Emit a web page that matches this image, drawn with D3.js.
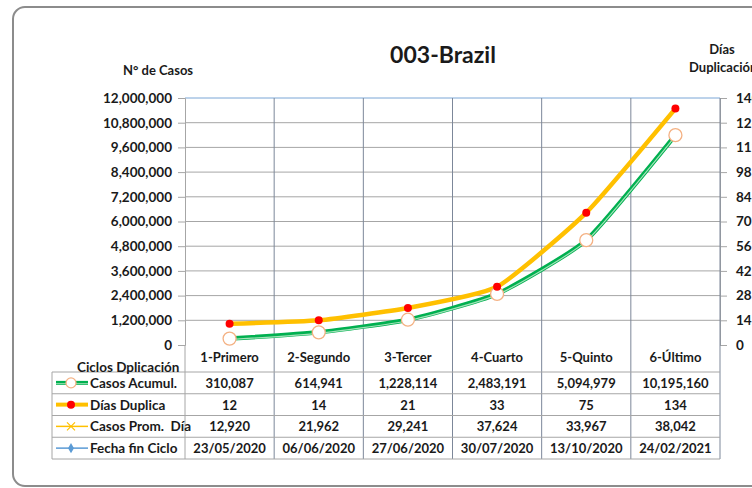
<!DOCTYPE html>
<html>
<head>
<meta charset="utf-8">
<script src="https://cdn.jsdelivr.net/npm/d3@7"></script>
<style>
  body { margin: 0; background: #fff; }
  svg text { font-family: Lato, "Open Sans", sans-serif; font-weight: bold; fill: #1a1a1a; }
</style>
</head>
<body>
<svg id="chart"></svg>
<script>
(function(){
    "use strict";

    const width = 752,
        height = 488;

    // data
    const ciclos = ["1-Primero", "2-Segundo", "3-Tercer", "4-Cuarto", "5-Quinto", "6-Último"];
    const casosAcumul = [310087, 614941, 1228114, 2483191, 5094979, 10195160];
    const diasDuplica = [12, 14, 21, 33, 75, 134];
    const casosPromDia = [12920, 21962, 29241, 37624, 33967, 38042];
    const fechaFin = ["23/05/2020", "06/06/2020", "27/06/2020", "30/07/2020", "13/10/2020", "24/02/2021"];
    const leftTicks = [0, 1200000, 2400000, 3600000, 4800000, 6000000, 7200000, 8400000, 9600000, 10800000, 12000000];
    const rightTicks = [0, 14, 28, 42, 56, 70, 84, 98, 112, 126, 140];

    const plot = {left: 185, right: 720, top: 98, bottom: 345};
    const tableTop = 372, rowH = 21.75, tableLeft = 52;

    const fmt = d3.format(",");

    let svg = d3.select("svg#chart")
        .attr("width", width)
        .attr("height", height);

    // outer rounded frame
    svg.append("rect")
        .attr("x", 13).attr("y", 7)
        .attr("width", 760).attr("height", 479)
        .attr("rx", 12)
        .attr("fill", "#fff")
        .attr("stroke", "#8c8c8c")
        .attr("stroke-width", 2);

    const x = d3.scaleBand().domain(ciclos).range([plot.left, plot.right]);
    const cx = d => x(d) + x.bandwidth() / 2;
    const yL = d3.scaleLinear().domain([0, 12000000]).range([plot.bottom, plot.top]);
    const yR = d3.scaleLinear().domain([0, 140]).range([plot.bottom, plot.top]);

    // horizontal gridlines
    svg.append("g").selectAll("line")
        .data(leftTicks.slice(1))
        .join("line")
        .attr("x1", plot.left).attr("x2", plot.right)
        .attr("y1", d => yL(d)).attr("y2", d => yL(d))
        .attr("stroke", d => d === 12000000 ? "#7aa6d6" : "#a6a6a6")
        .attr("stroke-width", 1);

    // left axis
    let axL = svg.append("g")
        .attr("transform", `translate(${plot.left},0)`)
        .call(d3.axisLeft(yL).tickValues(leftTicks).tickFormat(fmt).tickSize(7).tickPadding(6));
    axL.select(".domain").attr("stroke", "#a6a6a6");
    axL.selectAll(".tick line").attr("stroke", "#a6a6a6");
    axL.selectAll(".tick text").style("font-size", "13.5px").attr("fill", "#1a1a1a");

    // right axis (cut by the frame edge, as in the original)
    let axR = svg.append("g")
        .attr("transform", `translate(${plot.right},0)`)
        .call(d3.axisRight(yR).tickValues(rightTicks).tickSize(7).tickPadding(9));
    axR.select(".domain").attr("stroke", "#a6a6a6");
    axR.selectAll(".tick line").attr("stroke", "#a6a6a6");
    axR.selectAll(".tick text").style("font-size", "13.5px").attr("fill", "#1a1a1a");

    // vertical column lines through plot and table
    const colEdges = ciclos.map(c => x(c)).concat([plot.right]);
    svg.append("g").selectAll("line")
        .data(colEdges.slice(1))
        .join("line")
        .attr("x1", d => d).attr("x2", d => d)
        .attr("y1", plot.top).attr("y2", tableTop + 4 * rowH)
        .attr("stroke", "#7c8799")
        .attr("stroke-width", 1);

    // table horizontal lines
    svg.append("g").selectAll("line")
        .data(d3.range(5))
        .join("line")
        .attr("x1", tableLeft).attr("x2", plot.right)
        .attr("y1", i => tableTop + i * rowH).attr("y2", i => tableTop + i * rowH)
        .attr("stroke", "#a6a6a6");
    svg.append("line")
        .attr("x1", tableLeft).attr("x2", tableLeft)
        .attr("y1", tableTop).attr("y2", tableTop + 4 * rowH)
        .attr("stroke", "#a6a6a6");
    svg.append("line")
        .attr("x1", plot.left).attr("x2", plot.left)
        .attr("y1", plot.bottom).attr("y2", tableTop + 4 * rowH)
        .attr("stroke", "#a6a6a6");

    // category header row
    svg.append("g").selectAll("text")
        .data(ciclos)
        .join("text")
        .attr("x", d => cx(d))
        .attr("y", 362)
        .attr("text-anchor", "middle")
        .style("font-size", "13px")
        .text(d => d);

    svg.append("text")
        .attr("x", 77).attr("y", 372)
        .style("font-size", "13.5px")
        .text("Ciclos Dplicación");

    // table rows
    const rows = [
        {name: "Casos Acumul.", values: casosAcumul.map(fmt)},
        {name: "Días Duplica", values: diasDuplica.map(String)},
        {name: "Casos Prom.  Día", values: casosPromDia.map(fmt)},
        {name: "Fecha fin Ciclo", values: fechaFin}
    ];

    rows.forEach((r, i) => {
        const yMid = tableTop + i * rowH + rowH / 2;
        svg.append("text")
            .attr("x", 90).attr("y", yMid + 5)
            .style("font-size", "13.5px")
            .style("white-space", "pre")
            .text(r.name);
        svg.append("g").selectAll("text")
            .data(r.values)
            .join("text")
            .attr("x", (d, j) => cx(ciclos[j]))
            .attr("y", yMid + 5)
            .attr("text-anchor", "middle")
            .style("font-size", "13px")
            .text(d => d);
    });

    // legend keys
    const key = (i) => tableTop + i * rowH + rowH / 2;
    // Casos Acumul.
    svg.append("line").attr("x1", 56).attr("x2", 88).attr("y1", key(0)).attr("y2", key(0))
        .attr("stroke", "#00b050").attr("stroke-width", 4);
    svg.append("line").attr("x1", 56).attr("x2", 88).attr("y1", key(0) + 0.8).attr("y2", key(0) + 0.8)
        .attr("stroke", "#9fe0b5").attr("stroke-width", 1);
    svg.append("circle").attr("cx", 71).attr("cy", key(0)).attr("r", 5)
        .attr("fill", "#fff").attr("stroke", "#f4b183").attr("stroke-width", 1.3);
    // Días Duplica
    svg.append("line").attr("x1", 56).attr("x2", 88).attr("y1", key(1)).attr("y2", key(1))
        .attr("stroke", "#ffc000").attr("stroke-width", 4);
    svg.append("circle").attr("cx", 71).attr("cy", key(1)).attr("r", 4).attr("fill", "#ff0000");
    // Casos Prom. Día
    svg.append("line").attr("x1", 56).attr("x2", 88).attr("y1", key(2)).attr("y2", key(2))
        .attr("stroke", "#ffc000").attr("stroke-width", 1.5);
    svg.append("path")
        .attr("d", `M67,${key(2) - 4}L75,${key(2) + 4}M67,${key(2) + 4}L75,${key(2) - 4}`)
        .attr("stroke", "#ffc000").attr("stroke-width", 1.2);
    // Fecha fin Ciclo
    svg.append("line").attr("x1", 56).attr("x2", 88).attr("y1", key(3)).attr("y2", key(3))
        .attr("stroke", "#5b9bd5").attr("stroke-width", 1.5);
    svg.append("path").attr("d", d3.symbol(d3.symbolDiamond, 30)())
        .attr("transform", `translate(71,${key(3)})`)
        .attr("fill", "#5b9bd5");

    // lines (lightly smoothed)
    const curve = d3.curveCardinal.tension(0.5);
    const greenLine = d3.line()
        .x((d, i) => cx(ciclos[i]))
        .y(d => yL(d))
        .curve(curve);
    const yellowLine = d3.line()
        .x((d, i) => cx(ciclos[i]))
        .y(d => yR(d))
        .curve(curve);

    svg.append("path").datum(casosAcumul)
        .attr("d", greenLine)
        .attr("fill", "none").attr("stroke", "#00b050").attr("stroke-width", 4.5);
    svg.append("path").datum(casosAcumul)
        .attr("d", greenLine)
        .attr("transform", "translate(0,1)")
        .attr("fill", "none").attr("stroke", "#a3e2b9").attr("stroke-width", 1.2);

    svg.append("path").datum(diasDuplica)
        .attr("d", yellowLine)
        .attr("fill", "none").attr("stroke", "#ffc000").attr("stroke-width", 4.5);

    svg.append("g").selectAll("circle")
        .data(casosAcumul)
        .join("circle")
        .attr("cx", (d, i) => cx(ciclos[i]))
        .attr("cy", d => yL(d))
        .attr("r", 6.5)
        .attr("fill", "#fff").attr("stroke", "#f4b183").attr("stroke-width", 1.3);

    svg.append("g").selectAll("circle")
        .data(diasDuplica)
        .join("circle")
        .attr("cx", (d, i) => cx(ciclos[i]))
        .attr("cy", d => yR(d))
        .attr("r", 4)
        .attr("fill", "#ff0000");

    // titles
    svg.append("text")
        .attr("x", 443).attr("y", 63)
        .attr("text-anchor", "middle")
        .style("font-size", "23px")
        .text("003-Brazil");

    svg.append("text")
        .attr("x", 158).attr("y", 75)
        .attr("text-anchor", "middle")
        .style("font-size", "13px")
        .text("N° de Casos");

    svg.append("text")
        .attr("x", 722).attr("y", 54)
        .attr("text-anchor", "middle")
        .style("font-size", "13px")
        .text("Días");
    svg.append("text")
        .attr("x", 689).attr("y", 72)
        .style("font-size", "13px")
        .text("Duplicación");
})();
</script>
</body>
</html>
